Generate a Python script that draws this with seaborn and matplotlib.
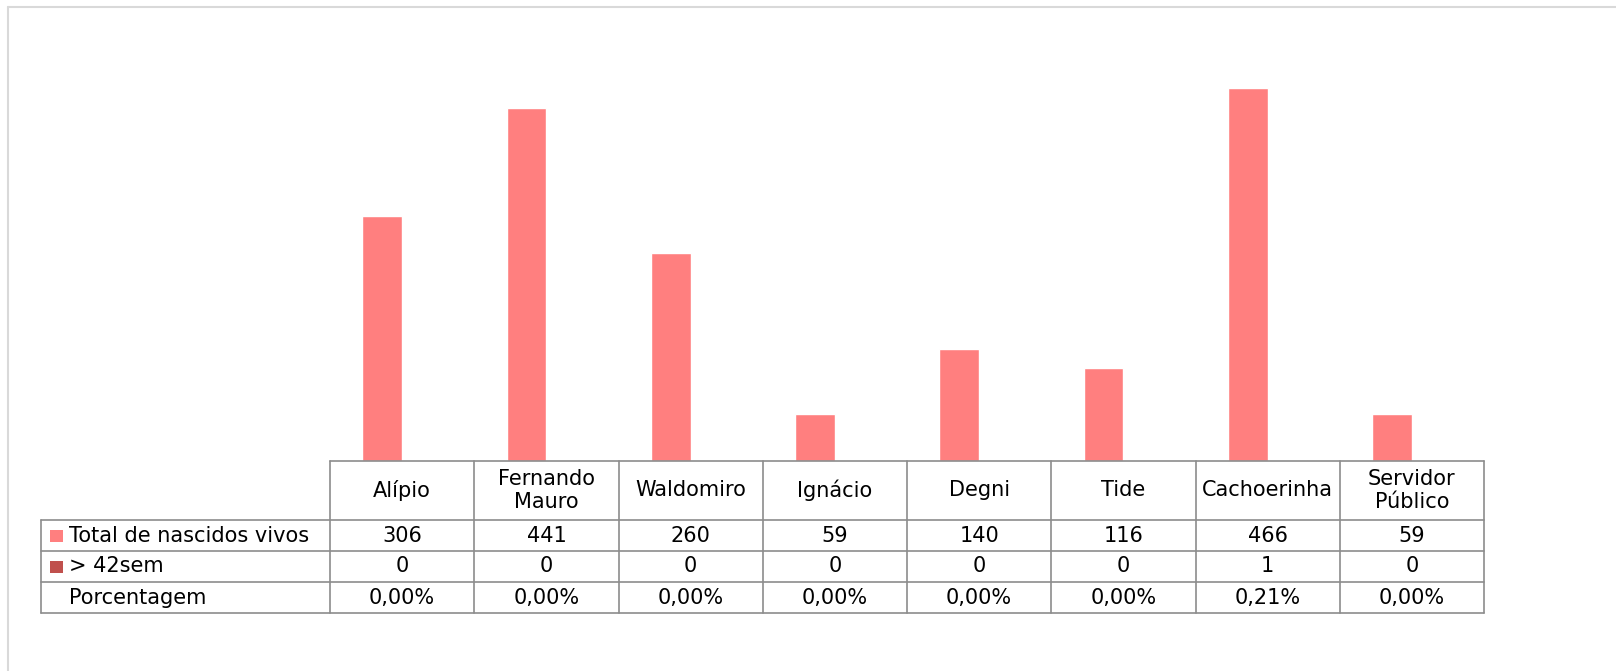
import pandas as pd
import matplotlib
matplotlib.use('Agg')
import matplotlib.pyplot as plt
import seaborn as sns

# Dados do grafico
categorias = ['Alípio', 'Fernando\nMauro', 'Waldomiro', 'Ignácio', 'Degni', 'Tide', 'Cachoerinha', 'Servidor\nPúblico']
total_nascidos = [306, 441, 260, 59, 140, 116, 466, 59]
maior_42sem = [0, 0, 0, 0, 0, 0, 1, 0]
porcentagem = [0.00, 0.00, 0.00, 0.00, 0.00, 0.00, 0.21, 0.00]
series = ['Total de nascidos vivos', '> 42sem']
cores = ['#FF7F7F', '#C0504D']

# Formato longo para o seaborn
df = pd.DataFrame({
    'categoria': categorias * 2,
    'valor': total_nascidos + maior_42sem,
    'serie': [series[0]] * len(categorias) + [series[1]] * len(categorias),
})

W, H = 1616, 671
fig = plt.figure(figsize=(W / 100, H / 100), dpi=100)
sns.set_style('white')
plt.rcParams['font.family'] = ['DejaVu Sans']

# Area do grafico (em pixels)
x0, x1 = 330, 1484
y_base = 461
ax = fig.add_axes([x0 / W, (H - y_base) / H, (x1 - x0) / W, 400 / H])
sns.barplot(data=df, x='categoria', y='valor', hue='serie', palette=cores,
            width=0.55, legend=False, ax=ax, saturation=1)
ax.set_ylim(0, 500)
ax.set_xlim(-0.5, len(categorias) - 0.5)
ax.axis('off')

# Moldura do grafico (so topo e esquerda visiveis)
fig.add_artist(plt.Line2D([8 / W, 8 / W], [0, 1 - 7 / H], transform=fig.transFigure, color='#d9d9d9', lw=1.5))
fig.add_artist(plt.Line2D([8 / W, 1], [1 - 7 / H, 1 - 7 / H], transform=fig.transFigure, color='#d9d9d9', lw=1.5))

# Tabela de dados
cor_linha = '#8c8c8c'
fs = 15
tab_left = 41
col_w = (x1 - x0) / len(categorias)
rows_y = [461, 520, 551, 582, 613]

def fx(px):
    return px / W

def fy(py):
    return 1 - py / H

def linha(xa, xb, ya, yb):
    fig.add_artist(plt.Line2D([fx(xa), fx(xb)], [fy(ya), fy(yb)], transform=fig.transFigure,
                              color=cor_linha, lw=1.2))

# linhas horizontais
linha(x0, x1, rows_y[0], rows_y[0])
for y in rows_y[1:]:
    linha(tab_left, x1, y, y)
# linhas verticais
linha(tab_left, tab_left, rows_y[1], rows_y[4])
for i in range(len(categorias) + 1):
    xv = x0 + i * col_w
    linha(xv, xv, rows_y[0], rows_y[4])

# cabecalho
for i, c in enumerate(categorias):
    fig.text(fx(x0 + (i + 0.5) * col_w), fy((rows_y[0] + rows_y[1]) / 2), c,
             ha='center', va='center', fontsize=fs, linespacing=1.2, color='black')

# linhas de valores
linhas_tab = [
    [str(v) for v in total_nascidos],
    [str(v) for v in maior_42sem],
    [f'{p:.2f}%'.replace('.', ',') for p in porcentagem],
]
rotulos = series + ['Porcentagem']
for r, (rot, vals) in enumerate(zip(rotulos, linhas_tab)):
    yc = (rows_y[r + 1] + rows_y[r + 2]) / 2
    if r < 2:
        fig.add_artist(plt.Rectangle((fx(50), fy(yc + 6)), 13 / W, 12 / H,
                                     transform=fig.transFigure, color=cores[r], lw=0))
    fig.text(fx(69), fy(yc), rot, ha='left', va='center', fontsize=fs, color='black')
    for i, v in enumerate(vals):
        fig.text(fx(x0 + (i + 0.5) * col_w), fy(yc), v, ha='center', va='center',
                 fontsize=fs, color='black')

fig.savefig('out.png', dpi=100, facecolor='white')
